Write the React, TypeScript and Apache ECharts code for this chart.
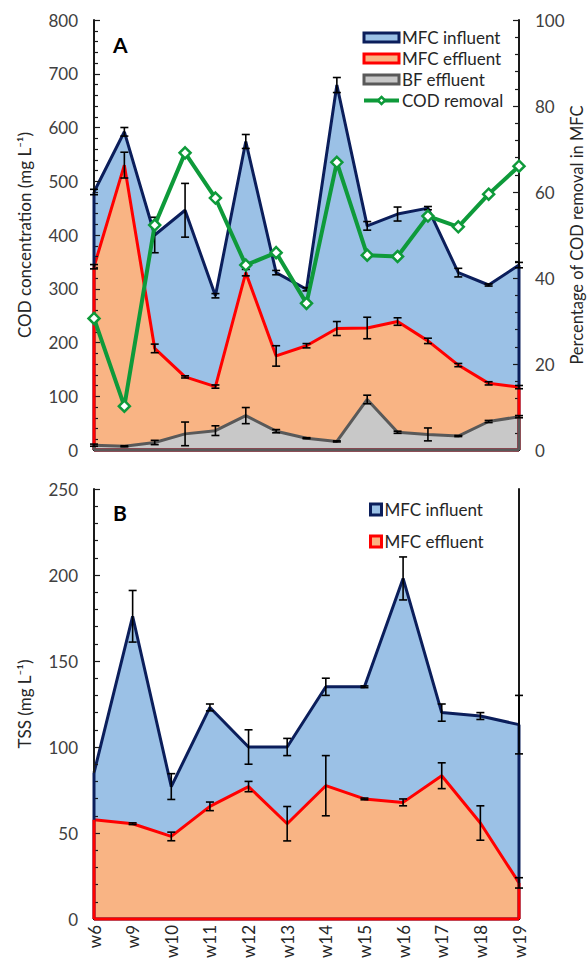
import React, { useEffect, useRef } from "react";
import * as echarts from "echarts";

// ---------- Panel A (COD) : 15 sampling points ----------
const samplesA = ["1", "2", "3", "4", "5", "6", "7", "8", "9", "10", "11", "12", "13", "14", "15"];
const codInfluent = [480, 592, 400, 446, 287, 574, 330, 299, 679, 417, 439, 450, 330, 307, 344];
const codInfluentErr = [5, 8, 33, 50, 4, 13, 4, 3, 14, 8, 13, 3, 8, 2, 5];
const codEffluent = [341, 530, 189, 136, 118, 330, 175, 194, 226, 227, 239, 203, 158, 124, 117];
const codEffluentErr = [4, 24, 8, 2, 3, 6, 19, 4, 13, 20, 7, 5, 3, 3, 3];
const bfEffluent = [9, 7, 14, 30, 36, 64, 35, 22, 16, 94, 33, 29, 26, 53, 62];
const bfEffluentErr = [2, 1, 4, 22, 9, 15, 3, 1, 1, 8, 2, 12, 1, 2, 2];
const codRemoval = [30.6, 10.2, 52.3, 69.1, 58.6, 43.0, 45.9, 34.1, 66.9, 45.3, 45.0, 54.4, 51.9, 59.5, 66.0];

// ---------- Panel B (TSS) : weeks ----------
const weeks = ["w6", "w9", "w10", "w11", "w12", "w13", "w14", "w15", "w16", "w17", "w18", "w19"];
const tssInfluent = [85, 176, 77, 123, 100, 100, 135, 135, 198, 120, 118, 113];
const tssInfluentErr = [0, 15, 7.5, 2, 10, 5, 5, 0.5, 12.5, 5, 2, 17];
const tssEffluent = [57.7, 55.4, 48, 65.5, 77, 55.4, 77.5, 69.8, 67.8, 83.3, 55.8, 21];
const tssEffluentErr = [0, 0.5, 2.5, 2.5, 3, 10, 17.5, 0.5, 2, 7.5, 10, 3];

// ---------- styles ----------
const FONT = "Lato";
const NAVY = "#0B1E5B";
const BLUE_FILL = "#9BC1E6";
const RED = "#FF0000";
const PEACH = "#F9B484";
const GRAY_LINE = "#595959";
const GRAY_FILL = "#C8C8C8";
const GREEN = "#0E9A3A";
const FRAME = "#1a1a1a";
const LABEL = "#404040";
const TEXT = "#262626";

function errData(vals: number[], errs: number[]) {
  const out: number[][] = [];
  vals.forEach((v, i) => {
    if (errs[i] > 0) out.push([i, v - errs[i], v + errs[i]]);
  });
  return out;
}

function errRender(params: any, api: any) {
  const x = api.value(0);
  const lo = api.value(1);
  const hi = api.value(2);
  const p1 = api.coord([x, hi]);
  const p2 = api.coord([x, lo]);
  const w = 4;
  const st = { stroke: "#000", lineWidth: 1.6 };
  return {
    type: "group",
    children: [
      { type: "line", shape: { x1: p1[0], y1: p1[1], x2: p2[0], y2: p2[1] }, style: st },
      { type: "line", shape: { x1: p1[0] - w, y1: p1[1], x2: p1[0] + w, y2: p1[1] }, style: st },
      { type: "line", shape: { x1: p2[0] - w, y1: p2[1], x2: p2[0] + w, y2: p2[1] }, style: st },
    ],
  };
}

// outline edges of the filled areas (left, right and bottom sides of each polygon)
function edgeData(list: { vals: number[]; color: number }[]) {
  const out: number[][] = [];
  list.forEach(({ vals, color }) => {
    const n = vals.length - 1;
    out.push([0, 0, n, 0, color]);
    out.push([0, vals[0], 0, 0, color]);
    out.push([n, vals[n], n, 0, color]);
  });
  return out;
}
const EDGE_COLORS = [NAVY, RED, GRAY_LINE];
function edgeRender(params: any, api: any) {
  const a = api.coord([api.value(0), api.value(1)]);
  const b = api.coord([api.value(2), api.value(3)]);
  return {
    type: "line",
    shape: { x1: a[0], y1: a[1], x2: b[0], y2: b[1] },
    style: { stroke: EDGE_COLORS[api.value(4)], lineWidth: 3 },
  };
}

export default function App() {
  const ref = useRef<HTMLDivElement>(null);
  useEffect(() => {
    if (!ref.current) return;
    const chart = echarts.init(ref.current, undefined, { renderer: "svg" });

    const valueAxisBase = (extra: any) => ({
      type: "value",
      z: 10,
      nameMoveOverlap: false,
      axisLine: { show: true, lineStyle: { color: FRAME, width: 2 } },
      axisTick: { show: true, inside: true, length: 6, lineStyle: { color: FRAME, width: 1.2 } },
      minorTick: { show: true, splitNumber: 5, length: 4, lineStyle: { color: FRAME, width: 1.2 } },
      splitLine: { show: false },
      axisLabel: { fontFamily: FONT, fontSize: 17, color: LABEL, margin: 16 },
      nameTextStyle: { fontFamily: FONT, fontSize: 17, color: TEXT, lineHeight: 18 },
      ...extra,
    });

    const option: any = {
      animation: false,
      backgroundColor: "#fff",
      title: [
        { text: "A", left: 113, top: 34, padding: 0, textStyle: { fontFamily: FONT, fontSize: 21, fontWeight: "bold", color: "#000" } },
        { text: "B", left: 113, top: 502, padding: 0, textStyle: { fontFamily: FONT, fontSize: 21, fontWeight: "bold", color: "#000" } },
      ],
      legend: [
        {
          orient: "vertical",
          left: 357,
          top: 24,
          itemWidth: 35,
          itemHeight: 9,
          itemGap: 4,
          selectedMode: false,
          textStyle: { fontFamily: FONT, fontSize: 17, color: TEXT, lineHeight: 17, padding: [0, 0, 0, -2] },
          data: [
            { name: "MFC influent", icon: "rect", itemStyle: { color: BLUE_FILL, borderColor: NAVY, borderWidth: 3 } },
            { name: "MFC effluent", icon: "rect", itemStyle: { color: PEACH, borderColor: RED, borderWidth: 3 } },
            { name: "BF effluent", icon: "rect", itemStyle: { color: GRAY_FILL, borderColor: GRAY_LINE, borderWidth: 3 } },
            {
              name: "COD removal",
              lineStyle: { color: GREEN, width: 4 },
              itemStyle: { color: "#fff", borderColor: GREEN, borderWidth: 2.5 },
            },
          ],
        },
        {
          orient: "vertical",
          left: 364,
          top: 496,
          itemWidth: 11,
          itemHeight: 11,
          itemGap: 15,
          selectedMode: false,
          textStyle: { fontFamily: FONT, fontSize: 17, color: TEXT, lineHeight: 17, padding: [0, 0, 0, -2] },
          data: [
            { name: "MFC influent", icon: "rect", itemStyle: { color: BLUE_FILL, borderColor: NAVY, borderWidth: 3 } },
            { name: "MFC effluent", icon: "rect", itemStyle: { color: PEACH, borderColor: RED, borderWidth: 3 } },
          ],
        },
      ],
      grid: [
        { left: 94, top: 20, width: 425, height: 430, containLabel: false, outerBoundsMode: "none" },
        { left: 94, top: 489, width: 425, height: 430, containLabel: false, outerBoundsMode: "none" },
      ],
      xAxis: [
        {
          type: "category", gridIndex: 0, data: samplesA, boundaryGap: false, z: 10,
          axisLine: { show: true, lineStyle: { color: FRAME, width: 2 } },
          axisTick: { show: false }, axisLabel: { show: false },
        },
        {
          type: "category", gridIndex: 0, position: "top", data: samplesA, boundaryGap: false, z: 10,
          axisLine: { show: true, lineStyle: { color: FRAME, width: 2 } },
          axisTick: { show: false }, axisLabel: { show: false },
        },
        {
          type: "category", gridIndex: 1, data: weeks, boundaryGap: false, z: 10,
          axisLine: { show: true, lineStyle: { color: FRAME, width: 2 } },
          axisTick: { show: false },
          axisLabel: { rotate: 90, fontFamily: FONT, fontSize: 17, color: TEXT, margin: 6, interval: 0 },
        },
        {
          type: "category", gridIndex: 1, position: "top", data: weeks, boundaryGap: false, z: 10,
          axisLine: { show: true, lineStyle: { color: FRAME, width: 2 } },
          axisTick: { show: false }, axisLabel: { show: false },
        },
      ],
      yAxis: [
        valueAxisBase({
          gridIndex: 0, min: 0, max: 800, interval: 100, position: "left",
          name: "COD concentration (mg L\u207B\u00B9)", nameLocation: "middle", nameRotate: 90, nameGap: 61,
        }),
        valueAxisBase({
          gridIndex: 0, min: 0, max: 100, interval: 20, position: "right",
          name: "Percentage of COD removal in MFC", nameLocation: "middle", nameRotate: 90, nameGap: 49,
          nameTextStyle: { fontFamily: FONT, fontSize: 16.5, color: TEXT, lineHeight: 18 },
        }),
        valueAxisBase({
          gridIndex: 1, min: 0, max: 250, interval: 50, position: "left",
          name: "TSS (mg L\u207B\u00B9)", nameLocation: "middle", nameRotate: 90, nameGap: 61,
        }),
        {
          type: "value", gridIndex: 1, min: 0, max: 250, interval: 50, position: "right", z: 10,
          axisLine: { show: true, lineStyle: { color: FRAME, width: 2 } },
          axisTick: { show: false }, axisLabel: { show: false }, splitLine: { show: false },
        },
      ],
      series: [
        {
          name: "MFC influent", type: "line", xAxisIndex: 0, yAxisIndex: 0, data: codInfluent,
          symbol: "none", lineStyle: { color: NAVY, width: 3 }, itemStyle: { color: BLUE_FILL },
          areaStyle: { color: BLUE_FILL, opacity: 1 }, z: 2,
        },
        {
          name: "MFC effluent", type: "line", xAxisIndex: 0, yAxisIndex: 0, data: codEffluent,
          symbol: "none", lineStyle: { color: RED, width: 3 }, itemStyle: { color: PEACH },
          areaStyle: { color: PEACH, opacity: 1 }, z: 2,
        },
        {
          name: "BF effluent", type: "line", xAxisIndex: 0, yAxisIndex: 0, data: bfEffluent,
          symbol: "none", lineStyle: { color: GRAY_LINE, width: 3 }, itemStyle: { color: GRAY_FILL },
          areaStyle: { color: GRAY_FILL, opacity: 1 }, z: 2,
        },
        {
          type: "custom", xAxisIndex: 0, yAxisIndex: 0, renderItem: edgeRender, z: 11, silent: true,
          encode: { x: [0, 2], y: [1, 3] },
          data: edgeData([
            { vals: codInfluent, color: 0 },
            { vals: codEffluent, color: 1 },
            { vals: bfEffluent, color: 2 },
          ]),
        },
        {
          type: "custom", xAxisIndex: 0, yAxisIndex: 0, renderItem: errRender, z: 12, silent: true,
          encode: { x: 0, y: [1, 2] },
          data: [
            ...errData(codInfluent, codInfluentErr),
            ...errData(codEffluent, codEffluentErr),
            ...errData(bfEffluent, bfEffluentErr),
          ],
        },
        {
          name: "COD removal", type: "line", xAxisIndex: 0, yAxisIndex: 1, data: codRemoval,
          symbol: "diamond", symbolSize: 11, showAllSymbol: true,
          lineStyle: { color: GREEN, width: 4 },
          itemStyle: { color: "#fff", borderColor: GREEN, borderWidth: 2.5 }, z: 13,
        },
        {
          name: "MFC influent", type: "line", xAxisIndex: 2, yAxisIndex: 2, data: tssInfluent,
          symbol: "none", lineStyle: { color: NAVY, width: 3 }, itemStyle: { color: BLUE_FILL },
          areaStyle: { color: BLUE_FILL, opacity: 1 }, z: 2,
        },
        {
          name: "MFC effluent", type: "line", xAxisIndex: 2, yAxisIndex: 2, data: tssEffluent,
          symbol: "none", lineStyle: { color: RED, width: 3 }, itemStyle: { color: PEACH },
          areaStyle: { color: PEACH, opacity: 1 }, z: 2,
        },
        {
          type: "custom", xAxisIndex: 2, yAxisIndex: 2, renderItem: edgeRender, z: 11, silent: true,
          encode: { x: [0, 2], y: [1, 3] },
          data: edgeData([
            { vals: tssInfluent, color: 0 },
            { vals: tssEffluent, color: 1 },
          ]),
        },
        {
          type: "custom", xAxisIndex: 2, yAxisIndex: 2, renderItem: errRender, z: 12, silent: true,
          encode: { x: 0, y: [1, 2] },
          data: [...errData(tssInfluent, tssInfluentErr), ...errData(tssEffluent, tssEffluentErr)],
        },
      ],
    };
    chart.setOption(option);
    return () => chart.dispose();
  }, []);

  return (
    <div
      ref={ref}
      style={{ position: "absolute", left: 0, top: 0, width: 588, height: 962, background: "#fff" }}
    />
  );
}
